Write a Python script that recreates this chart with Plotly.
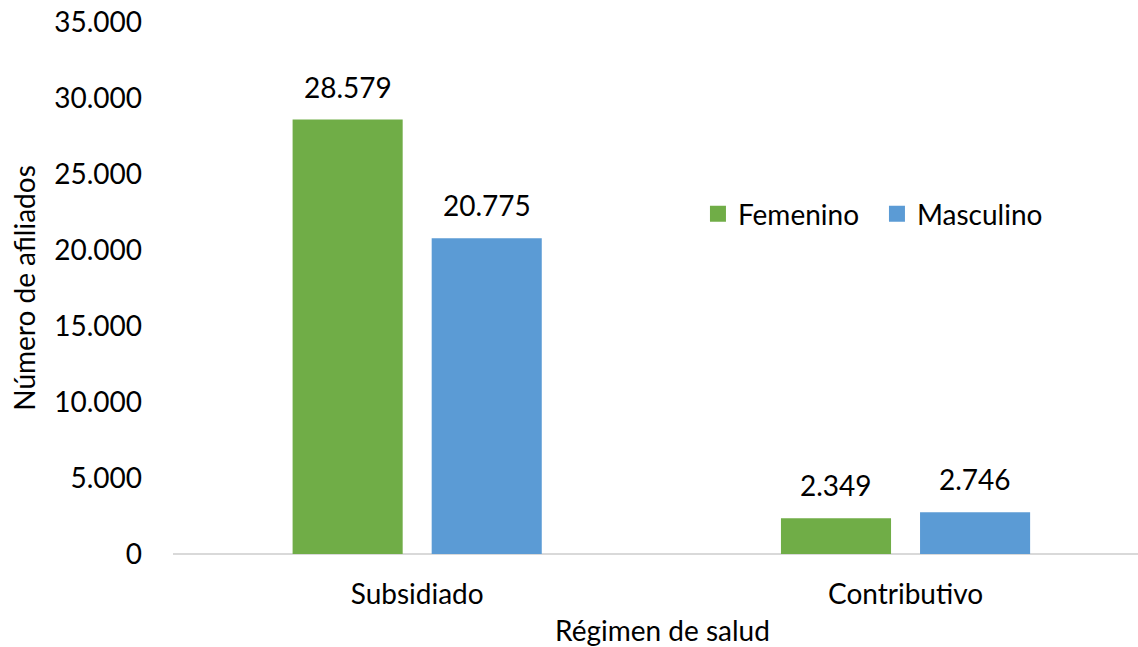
import plotly.graph_objects as go

categories = ["Subsidiado", "Contributivo"]
femenino = [28579, 2349]
masculino = [20775, 2746]
series_names = ["Femenino", "Masculino"]
colors = ["#70AD47", "#5B9BD5"]
y_ticks = [0, 5000, 10000, 15000, 20000, 25000, 30000, 35000]
y_tick_labels = ["0", "5.000", "10.000", "15.000", "20.000", "25.000", "30.000", "35.000"]

FONT = "Lato"
FS = 28

def fmt(v):
    return f"{v:,}".replace(",", ".")

fig = go.Figure()
offsets = [-0.1424, 0.1424]
for name, vals, col, off in zip(series_names, [femenino, masculino], colors, offsets):
    fig.add_trace(go.Bar(
        x=categories, y=vals, name=name, marker=dict(color=col, line=dict(width=0)),
        width=0.2254, offset=off - 0.1127, showlegend=False,
    ))
    fig.add_trace(go.Scatter(
        x=[None], y=[None], mode="markers", name=name,
        marker=dict(symbol="square", size=18, color=col), showlegend=True,
    ))

annotations = []
for vals, off in zip([femenino, masculino], offsets):
    for i, v in enumerate(vals):
        annotations.append(dict(
            x=i + off, y=v, xref="x", yref="y", text=fmt(v), showarrow=False,
            yanchor="bottom", yshift=14, font=dict(family=FONT, size=FS, color="#000"),
        ))

annotations.append(dict(
    x=0.507, y=-(630 - 554) / (554 - 22), xref="paper", yref="paper",
    text="Régimen de salud", showarrow=False, yanchor="middle",
    font=dict(family=FONT, size=FS, color="#000"),
))

fig.update_layout(
    width=1138, height=647,
    margin=dict(l=173, r=0, t=22, b=93),
    paper_bgcolor="white", plot_bgcolor="white",
    barmode="overlay",
    font=dict(family=FONT, size=FS, color="#000"),
    legend=dict(orientation="h", x=0.544, y=0.639, xanchor="left", yanchor="middle",
                font=dict(family=FONT, size=FS, color="#000"), bgcolor="rgba(0,0,0,0)",
                itemsizing="trace", entrywidth=134),
    xaxis=dict(
        type="category", range=[-0.5, 1.476], showgrid=False, zeroline=False,
        showline=False, ticks="", ticklabelstandoff=21,
        tickfont=dict(family=FONT, size=FS, color="#000"),
    ),
    yaxis=dict(
        range=[0, 35000], tickvals=y_ticks, ticktext=y_tick_labels, showgrid=False,
        zeroline=True, zerolinecolor="#D9D9D9", zerolinewidth=2, showline=False,
        ticks="", ticklabelstandoff=30,
        tickfont=dict(family=FONT, size=FS, color="#000"),
        title=dict(text="Número de afiliados", font=dict(family=FONT, size=FS, color="#000"), standoff=10),
    ),
    annotations=annotations,
)

fig.write_html("out.html", config={"displayModeBar": False},
               post_script="document.body.style.margin='0';")
